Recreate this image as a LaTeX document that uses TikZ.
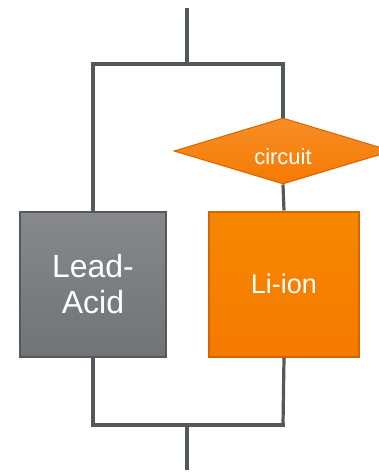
\documentclass[tikz,border=0pt]{standalone}
\usepackage{fontspec}
\setmainfont{Liberation Sans}
\usetikzlibrary{shapes.geometric}
\definecolor{wire}{HTML}{55575A}
\definecolor{boxgray}{HTML}{717376}
\definecolor{boxgrayedge}{HTML}{56585B}
\definecolor{boxorange}{HTML}{F57A00}
\definecolor{boxorangeedge}{HTML}{D86400}
\begin{document}
\begin{tikzpicture}[x=1pt,y=-1pt,
  wireline/.style={draw=wire,line width=3.2pt},
  grayblock/.style={rectangle,draw=boxgrayedge,line width=2pt,top color=boxgray!85!white,bottom color=boxgray,minimum width=146pt,minimum height=145pt,inner sep=0pt,text=white,align=center},
  orangeblock/.style={rectangle,draw=boxorangeedge,line width=2pt,top color=boxorange!90!yellow,bottom color=boxorange,minimum width=150pt,minimum height=145pt,inner sep=0pt,text=white,align=center},
  decision/.style={diamond,draw=boxorangeedge,line width=1pt,top color=boxorange!85!white,bottom color=boxorange,minimum width=218pt,minimum height=66pt,inner sep=0pt,text=white}]
\useasboundingbox (0,0) rectangle (379,475);
\coordinate (topin) at (187,8);
\coordinate (topj) at (187,64);
\coordinate (tl) at (93,64);
\coordinate (tr) at (283,64);
\coordinate (bl) at (93,425);
\coordinate (br) at (283,425);
\coordinate (botj) at (187,425);
\coordinate (botout) at (187,470);
\node[grayblock,font=\fontsize{32}{36}\selectfont] (lead) at (93,284) {Lead-\\Acid};
\node[orangeblock,font=\fontsize{27}{30}\selectfont] (liion) at (284,284) {Li-ion};
\node[decision,font=\fontsize{22}{24}\selectfont] (circ) at (283,151) {\raisebox{-13pt}[0pt][0pt]{circuit}};
\draw[wireline] (topin) -- (topj);
\draw[wireline,line cap=rect] (tl) -- (tr);
\draw[wireline] (tl) -- (lead.north);
\draw[wireline] (tr) -- (circ.north);
\draw[wireline] (circ.south) -- (liion.north);
\draw[wireline] (lead.south) -- (bl);
\draw[wireline] (liion.south) -- (br);
\draw[wireline,line cap=rect] (bl) -- (br);
\draw[wireline] (botj) -- (botout);
\end{tikzpicture}
\end{document}
